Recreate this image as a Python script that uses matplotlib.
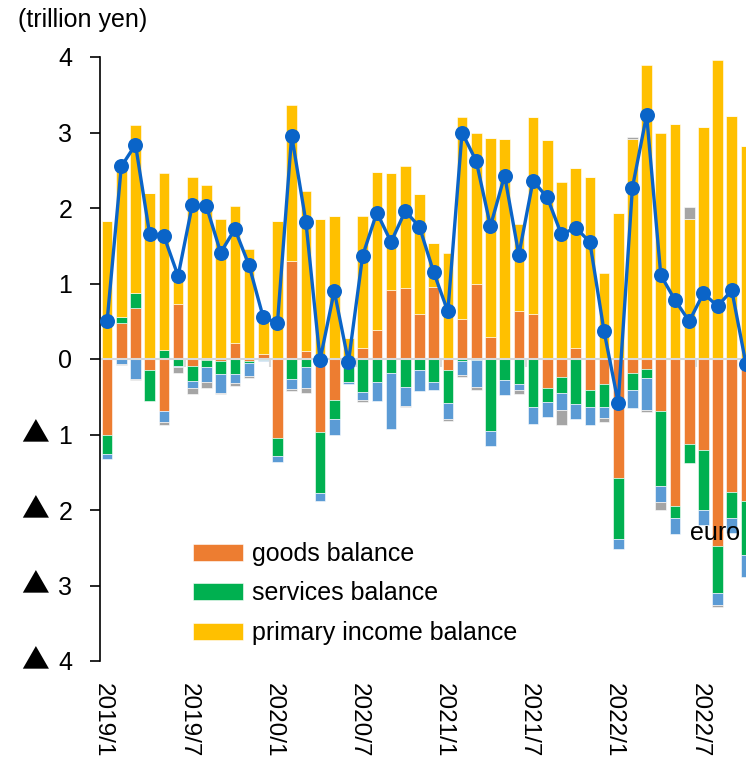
import numpy as np
import matplotlib
matplotlib.use("Agg")
import matplotlib.pyplot as plt
from matplotlib.transforms import ScaledTranslation

plt.rcParams['font.family'] = ['Liberation Sans', 'DejaVu Sans']

# monthly data, 2019/1 - 2022/10 (trillion yen)
months = [f"{y}/{m}" for y in range(2019, 2023) for m in range(1, 13)][:46]

goods = [-1.01, 0.48, 0.68, -0.14, -0.69, 0.73, -0.09, -0.01, -0.02, 0.21, -0.03, 0.07,
         -1.04, 1.30, 0.10, -0.97, -0.54, 0.0, 0.15, 0.38, 0.92, 0.94, 0.60, 0.95,
         -0.15, 0.53, 0.99, 0.29, 0.0, 0.63, 0.60, -0.38, -0.24, 0.15, -0.41, -0.33,
         -1.57, -0.19, -0.13, -0.69, -1.95, -1.13, -1.21, -2.48, -1.76, -1.88]
services = [-0.25, 0.08, 0.20, -0.41, 0.12, -0.09, -0.20, -0.09, -0.18, -0.20, -0.02, -0.01,
            -0.24, -0.27, -0.11, -0.81, -0.25, -0.31, -0.44, -0.30, -0.19, -0.37, -0.15, -0.30,
            -0.43, -0.02, -0.01, -0.96, -0.28, -0.33, -0.63, -0.19, -0.21, -0.60, -0.22, -0.31,
            -0.82, -0.22, -0.12, -0.99, -0.16, -0.25, -0.79, -0.62, -0.34, -0.72]
primary = [1.83, 2.06, 2.22, 2.20, 2.35, 0.45, 2.41, 2.31, 1.86, 1.82, 1.46, 0.50,
           1.83, 2.06, 2.12, 1.85, 1.90, 0.28, 1.74, 2.10, 1.54, 1.62, 1.59, 0.59,
           1.41, 2.67, 2.00, 2.64, 2.92, 1.16, 2.61, 2.90, 2.34, 2.38, 2.41, 1.14,
           1.94, 2.92, 3.89, 3.00, 3.11, 1.86, 3.07, 3.96, 3.22, 2.82]
secondary = [-0.07, -0.06, -0.26, 0.0, -0.14, -0.02, -0.09, -0.20, -0.25, -0.12, -0.18, -0.02,
             -0.09, -0.13, -0.28, -0.10, -0.21, -0.02, -0.10, -0.25, -0.74, -0.25, -0.28, -0.11,
             -0.22, -0.19, -0.36, -0.19, -0.20, -0.08, -0.23, -0.20, -0.23, -0.20, -0.25, -0.14,
             -0.13, -0.24, -0.42, -0.22, -0.21, 0.0, -0.20, -0.16, -0.20, -0.29]
other = [0.0, -0.02, -0.02, 0.0, -0.04, -0.07, -0.08, -0.09, -0.01, -0.04, -0.02, 0.0,
         0.0, -0.02, -0.06, 0.0, 0.0, 0.0, -0.03, 0.0, 0.0, -0.01, 0.0, 0.0,
         -0.02, -0.03, -0.04, 0.0, 0.0, -0.05, 0.0, 0.0, -0.19, 0.0, 0.0, -0.05,
         0.0, 0.02, -0.03, -0.10, 0.0, 0.15, 0.0, -0.03, 0.0, 0.0]
current = [0.50, 2.55, 2.84, 1.65, 1.63, 1.10, 2.04, 2.02, 1.41, 1.72, 1.24, 0.55,
           0.48, 2.96, 1.82, -0.01, 0.90, -0.04, 1.37, 1.94, 1.55, 1.96, 1.75, 1.15,
           0.63, 3.00, 2.62, 1.76, 2.43, 1.38, 2.36, 2.14, 1.65, 1.74, 1.55, 0.37,
           -0.58, 2.27, 3.23, 1.11, 0.78, 0.50, 0.87, 0.70, 0.91, -0.07]

tick_labels = ["2019/1", "2019/7", "2020/1", "2020/7", "2021/1", "2021/7", "2022/1", "2022/7"]
yticks = [-4, -3, -2, -1, 0, 1, 2, 3, 4]
ytick_labels = ["4", "3", "2", "1", "0", "1", "2", "3", "4"]

fs = 18
fig = plt.figure(figsize=(7.46, 7.60), dpi=100)
ax = fig.add_axes([100/746, 99/760, 646/746, 604/760])

x = np.arange(len(months))
series = [(goods, '#ED7D31', 'goods balance'),
          (services, '#00B050', 'services balance'),
          (primary, '#FFC000', 'primary income balance'),
          (secondary, '#5B9BD5', None),
          (other, '#A5A5A5', None)]
pos = np.zeros(len(x))
neg = np.zeros(len(x))
handles = []
for vals, col, lab in series:
    v = np.array(vals)
    bottom = np.where(v >= 0, pos, neg)
    b = ax.bar(x, v, 0.75, bottom=bottom, color=col, edgecolor='white', linewidth=0.4, zorder=2)
    if lab:
        handles.append((b, lab))
    pos = pos + np.clip(v, 0, None)
    neg = neg + np.clip(v, None, 0)

ax.axhline(0, color='#d9d9d9', lw=1.5, zorder=2.5)
ax.vlines(np.arange(-0.5, len(x), 6), -0.1, 0, color='#d9d9d9', lw=1.5, zorder=2.5)

ax.plot(x, current, color='#0A64C8', lw=2.4, marker='o', markersize=10.8,
        markeredgewidth=0, zorder=3)

ax.set_xlim(-0.5, 45)
ax.set_ylim(-4, 4)
for s in ['top', 'right', 'bottom']:
    ax.spines[s].set_visible(False)
ax.spines['left'].set_linewidth(1.2)
ax.set_yticks(yticks)
ax.set_yticklabels(ytick_labels, fontsize=fs)
ax.tick_params(axis='y', length=7, width=1.2, pad=13)
# negative values marked with a triangle
for v in yticks:
    if v < 0:
        ax.text(-65/646, v, "▲", transform=ax.get_yaxis_transform(), fontsize=20,
                family=['Noto Sans CJK JP', 'DejaVu Sans'], ha='center', va='center')
ax.set_xticks(x[::6])
ax.set_xticklabels(tick_labels, rotation=270, fontsize=17.5, va='top', ha='center')
ax.tick_params(axis='x', length=0, pad=16)
for t in ax.get_xticklabels():
    t.set_transform(t.get_transform() + ScaledTranslation(-4/100, 0, fig.dpi_scale_trans))

ax.legend([h for h, _ in handles], [l for _, l in handles], loc='upper left',
          bbox_to_anchor=(193/746, 1 - 542/760), bbox_transform=fig.transFigure,
          frameon=False, fontsize=fs, borderpad=0, borderaxespad=0,
          handlelength=2.0, handleheight=0.68, handletextpad=0.35, labelspacing=0.62)

fig.text(18/746, 1 - 20/760, "(trillion yen)", fontsize=fs, va='center', ha='left')
fig.text(690/746, 1 - 540/760, "euro", fontsize=fs, va='baseline', ha='left')

fig.savefig("out.png", dpi=100)
